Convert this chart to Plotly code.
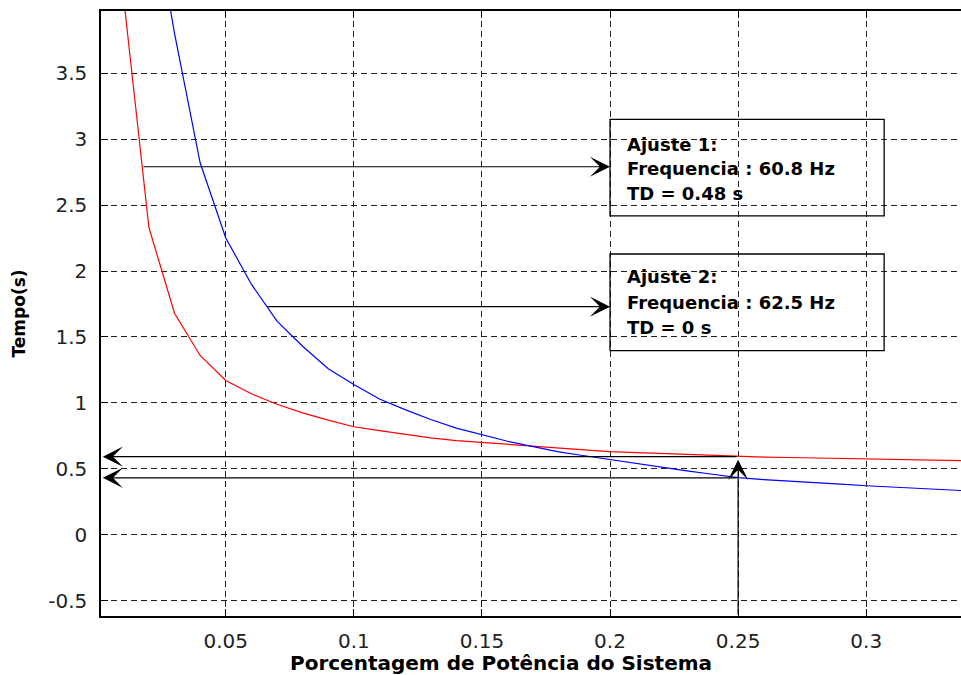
import plotly.graph_objects as go

red_x = [0.0107, 0.02, 0.03, 0.04, 0.05, 0.06, 0.07, 0.08, 0.09, 0.10,
         0.11, 0.12, 0.13, 0.14, 0.15, 0.16, 0.17, 0.18, 0.19, 0.20,
         0.21, 0.22, 0.23, 0.24, 0.25, 0.26, 0.27, 0.28, 0.29, 0.30,
         0.31, 0.32, 0.33, 0.34]
red_y = [3.97, 2.33, 1.68, 1.36, 1.17, 1.07, 0.99, 0.925, 0.87, 0.82,
         0.79, 0.76, 0.735, 0.715, 0.70, 0.685, 0.672, 0.66, 0.645, 0.632,
         0.625, 0.617, 0.61, 0.60, 0.593, 0.59, 0.587, 0.583, 0.58, 0.576,
         0.572, 0.568, 0.565, 0.562]

blue_x = [0.0285, 0.03, 0.04, 0.05, 0.06, 0.07, 0.08, 0.09, 0.10,
          0.11, 0.12, 0.13, 0.14, 0.15, 0.16, 0.17, 0.18, 0.19, 0.20,
          0.21, 0.22, 0.23, 0.24, 0.25, 0.26, 0.27, 0.28, 0.29, 0.30,
          0.31, 0.32, 0.33, 0.34]
blue_y = [3.97, 3.80, 2.82, 2.25, 1.90, 1.62, 1.43, 1.26, 1.14,
          1.03, 0.95, 0.875, 0.81, 0.76, 0.71, 0.67, 0.63, 0.60, 0.57,
          0.54, 0.51, 0.485, 0.46, 0.435, 0.42, 0.41, 0.395, 0.385, 0.373,
          0.362, 0.352, 0.343, 0.334]

x_ticks = [0.05, 0.1, 0.15, 0.2, 0.25, 0.3]
x_ticktext = ["0.05", "0.1", "0.15", "0.2", "0.25", "0.3"]
y_ticks = [-0.5, 0, 0.5, 1, 1.5, 2, 2.5, 3, 3.5]
y_ticktext = ["-0.5", "0", "0.5", "1", "1.5", "2", "2.5", "3", "3.5"]

x_range = [0.0013, 0.337]
y_range = [-0.614, 3.97]

x_title = "Porcentagem de Potência do Sistema"
y_title = "Tempo(s)"

box1_lines = ["Ajuste 1:", "Frequencia : 60.8 Hz", "TD = 0.48 s"]
box2_lines = ["Ajuste 2:", "Frequencia : 62.5 Hz", "TD = 0 s"]

# annotation geometry (data coordinates)
box1 = dict(x0=0.200, x1=0.307, y0=2.417, y1=3.149)
box2 = dict(x0=0.200, x1=0.307, y0=1.396, y1=2.129)
text_x = 0.2059
box1_text_y = [2.96, 2.775, 2.59]
box2_text_y = [1.955, 1.765, 1.575]

# arrows: (tail_x, tail_y, head_x, head_y)
arrows = [
    (0.0173, 2.79, 0.200, 2.79),
    (0.0657, 1.73, 0.200, 1.73),
    (0.250, -0.614, 0.250, 0.57),
    (0.250, 0.593, 0.002, 0.593),
    (0.250, 0.433, 0.002, 0.433),
]

fig = go.Figure()
fig.add_trace(go.Scatter(x=red_x, y=red_y, mode="lines",
                         line=dict(color="#ff0000", width=1.2), showlegend=False))
fig.add_trace(go.Scatter(x=blue_x, y=blue_y, mode="lines",
                         line=dict(color="#0000ff", width=1.2), showlegend=False))

for b in (box1, box2):
    fig.add_shape(type="rect", xref="x", yref="y", **b,
                  line=dict(color="black", width=1.3), fillcolor="rgba(0,0,0,0)")

txt_font = dict(family="DejaVu Sans", size=18, color="black", weight="bold")
for lines, ys in ((box1_lines, box1_text_y), (box2_lines, box2_text_y)):
    for t, yy in zip(lines, ys):
        fig.add_annotation(x=text_x, y=yy, xref="x", yref="y", text=t,
                           showarrow=False, xanchor="left", yanchor="middle",
                           font=txt_font)

for tx, ty, hx, hy in arrows:
    fig.add_annotation(x=hx, y=hy, ax=tx, ay=ty, xref="x", yref="y",
                       axref="x", ayref="y", text="", showarrow=True,
                       arrowhead=3, arrowsize=2.8, arrowwidth=1.2,
                       arrowcolor="black", standoff=0, startstandoff=0)

# x-axis title (placed slightly left of plot centre, as in the reference)
fig.add_annotation(x=0.465, y=0, xref="paper", yref="paper", yshift=-47,
                   text=x_title, showarrow=False, xanchor="center", yanchor="middle",
                   font=dict(family="DejaVu Sans", size=20, color="black", weight="bold"))

tick_font = dict(family="DejaVu Sans", size=20, color="#222222")
fig.update_xaxes(range=x_range, tickvals=x_ticks, ticktext=x_ticktext,
                 showgrid=True, gridcolor="#222222", griddash="6px,4px", gridwidth=1,
                 showline=True, linecolor="black", linewidth=1.5, mirror="ticks",
                 ticks="inside", ticklen=7, tickcolor="black", tickwidth=1.2,
                 tickfont=tick_font, ticklabelstandoff=6, zeroline=False,
                 automargin=False)
fig.update_yaxes(range=y_range, tickvals=y_ticks, ticktext=y_ticktext,
                 showgrid=True, gridcolor="#222222", griddash="6px,4px", gridwidth=1,
                 showline=True, linecolor="black", linewidth=1.5, mirror=False,
                 ticks="inside", ticklen=7, tickcolor="black", tickwidth=1.2,
                 tickfont=tick_font, ticklabelstandoff=8, zeroline=False,
                 automargin=False,
                 title=dict(text=y_title, standoff=18,
                            font=dict(family="DejaVu Sans", size=17, color="black", weight="bold")))

fig.update_layout(width=961, height=675,
                  margin=dict(l=101, r=0, t=11, b=59, pad=0),
                  paper_bgcolor="white", plot_bgcolor="white")

fig.write_html("out.html", config={"displayModeBar": False},
               post_script="document.body.style.margin='0';document.body.style.overflow='hidden';")
